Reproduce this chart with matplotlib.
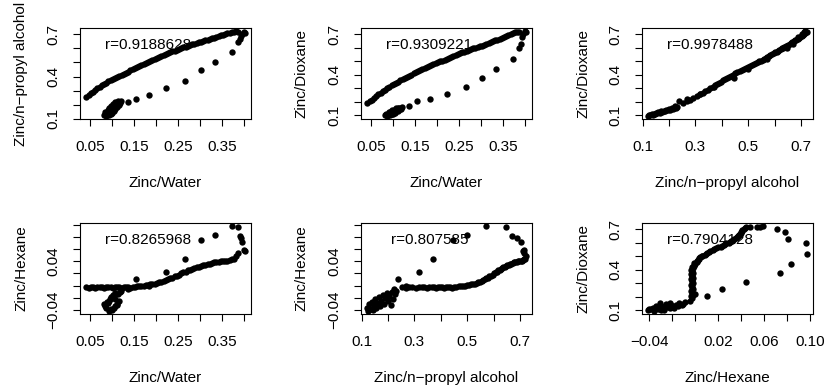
import matplotlib
matplotlib.use("Agg")
import matplotlib.pyplot as plt

plt.rcParams['font.family'] = ['Liberation Sans', 'DejaVu Sans']

# one row per observation, read off the six scatter panels
# main band, lower cluster, sparse lower branch, top-right group
zinc_water = [
    0.042, 0.047, 0.052, 0.057, 0.062, 0.067, 0.072, 0.077, 0.082, 0.087,
    0.092, 0.097, 0.102, 0.107, 0.112, 0.117, 0.122, 0.127, 0.132, 0.137,
    0.142, 0.147, 0.152, 0.157, 0.162, 0.167, 0.172, 0.177, 0.182, 0.187,
    0.192, 0.197, 0.202, 0.207, 0.212, 0.217, 0.222, 0.227, 0.232, 0.237,
    0.242, 0.247, 0.252, 0.257, 0.262, 0.267, 0.272, 0.277, 0.282, 0.287,
    0.292, 0.297, 0.302, 0.307, 0.312, 0.317, 0.322, 0.327, 0.332, 0.337,
    0.342, 0.347, 0.352, 0.357, 0.362, 0.367, 0.372, 0.377,
    0.086, 0.093, 0.081, 0.097, 0.089, 0.101, 0.084, 0.095, 0.104, 0.090,
    0.099, 0.108, 0.094, 0.103, 0.112, 0.098, 0.107, 0.115, 0.102, 0.111,
    0.118, 0.106, 0.114, 0.120,
    0.136, 0.155, 0.183, 0.222, 0.265, 0.303, 0.333, 0.373,
    0.386, 0.390, 0.392, 0.396, 0.399, 0.401, 0.381, 0.385,
]
zinc_propyl = [
    0.255, 0.268, 0.280, 0.292, 0.305, 0.316, 0.327, 0.338, 0.349, 0.357,
    0.366, 0.375, 0.383, 0.391, 0.398, 0.406, 0.413, 0.420, 0.428, 0.435,
    0.443, 0.451, 0.459, 0.467, 0.475, 0.483, 0.491, 0.498, 0.506, 0.513,
    0.520, 0.528, 0.535, 0.541, 0.548, 0.554, 0.560, 0.566, 0.572, 0.578,
    0.584, 0.590, 0.596, 0.601, 0.607, 0.612, 0.618, 0.623, 0.628, 0.633,
    0.637, 0.642, 0.647, 0.652, 0.657, 0.662, 0.667, 0.672, 0.677, 0.682,
    0.687, 0.692, 0.697, 0.702, 0.707, 0.711, 0.715, 0.719,
    0.122, 0.126, 0.130, 0.134, 0.138, 0.142, 0.146, 0.150, 0.155, 0.160,
    0.165, 0.170, 0.175, 0.180, 0.185, 0.190, 0.195, 0.200, 0.205, 0.210,
    0.215, 0.220, 0.225, 0.229,
    0.221, 0.237, 0.268, 0.316, 0.370, 0.446, 0.500, 0.572,
    0.647, 0.668, 0.690, 0.705, 0.716, 0.712, 0.721, 0.716,
]
zinc_dioxane = [
    0.190, 0.203, 0.216, 0.229, 0.242, 0.254, 0.266, 0.278, 0.289, 0.300,
    0.310, 0.321, 0.331, 0.340, 0.349, 0.358, 0.367, 0.375, 0.384, 0.393,
    0.401, 0.410, 0.418, 0.427, 0.435, 0.442, 0.450, 0.457, 0.465, 0.472,
    0.479, 0.486, 0.493, 0.499, 0.505, 0.511, 0.518, 0.526, 0.533, 0.541,
    0.548, 0.554, 0.560, 0.566, 0.572, 0.578, 0.584, 0.589, 0.595, 0.601,
    0.606, 0.612, 0.617, 0.624, 0.630, 0.636, 0.642, 0.649, 0.655, 0.661,
    0.668, 0.675, 0.681, 0.688, 0.695, 0.701, 0.708, 0.714,
    0.097, 0.103, 0.099, 0.108, 0.104, 0.112, 0.109, 0.117, 0.114, 0.122,
    0.119, 0.128, 0.125, 0.133, 0.130, 0.139, 0.136, 0.145, 0.141, 0.150,
    0.147, 0.155, 0.152, 0.160,
    0.165, 0.206, 0.218, 0.256, 0.312, 0.375, 0.443, 0.520,
    0.600, 0.632, 0.678, 0.700, 0.722, 0.719, 0.716, 0.718,
]
zinc_hexane = [
    -0.003, -0.004, -0.002, -0.003, -0.004, -0.002, -0.003, -0.003, -0.004, -0.002,
    -0.003, -0.003, -0.004, -0.002, -0.003, -0.003, -0.004, -0.002, -0.003, -0.003,
    -0.004, -0.002, -0.003, -0.001, -0.001, 0.000, -0.001, 0.001, 0.001, 0.002,
    0.003, 0.003, 0.004, 0.006, 0.006, 0.008, 0.009, 0.010, 0.012, 0.013,
    0.015, 0.016, 0.018, 0.020, 0.022, 0.023, 0.025, 0.026, 0.027, 0.029,
    0.030, 0.031, 0.032, 0.033, 0.034, 0.035, 0.036, 0.037, 0.038, 0.038,
    0.039, 0.040, 0.040, 0.041, 0.041, 0.042, 0.043, 0.044,
    -0.036, -0.041, -0.030, -0.039, -0.027, -0.040, -0.033, -0.022, -0.037, -0.028,
    -0.019, -0.034, -0.025, -0.015, -0.030, -0.021, -0.012, -0.026, -0.017, -0.031,
    -0.011, -0.022, -0.014, -0.009,
    -0.005, 0.010, 0.000, 0.023, 0.044, 0.074, 0.083, 0.097,
    0.096, 0.081, 0.078, 0.071, 0.059, 0.056, 0.048, 0.054,
]

# correlation labels as printed on the panels
r_labels = ["r=0.9188628", "r=0.9309221", "r=0.9978488",
            "r=0.8265968", "r=0.807585", "r=0.7904128"]

# axis ticks (R only prints labels that do not collide)
water_ticks = [0.05, 0.10, 0.15, 0.20, 0.25, 0.30, 0.35, 0.40]
water_labels = ["0.05", "", "0.15", "", "0.25", "", "0.35", ""]
frac_ticks = [0.1, 0.2, 0.3, 0.4, 0.5, 0.6, 0.7]
frac_xlabels = ["0.1", "", "0.3", "", "0.5", "", "0.7"]
frac_ylabels = ["0.1", "", "", "0.4", "", "", "0.7"]
hex_ticks = [-0.04, -0.02, 0.00, 0.02, 0.04, 0.06, 0.08, 0.10]
hex_xlabels = ["\u22120.04", "", "", "0.02", "", "0.06", "", "0.10"]
hex_ylabels = ["\u22120.04", "", "", "", "0.04", "", "", ""]

lab_water = "Zinc/Water"
lab_propyl = "Zinc/n\u2212propyl alcohol"
lab_diox = "Zinc/Dioxane"
lab_hex = "Zinc/Hexane"

panels = [
    (zinc_water, zinc_propyl, lab_water, lab_propyl, water_ticks, water_labels, frac_ticks, frac_ylabels),
    (zinc_water, zinc_dioxane, lab_water, lab_diox, water_ticks, water_labels, frac_ticks, frac_ylabels),
    (zinc_propyl, zinc_dioxane, lab_propyl, lab_diox, frac_ticks, frac_xlabels, frac_ticks, frac_ylabels),
    (zinc_water, zinc_hexane, lab_water, lab_hex, water_ticks, water_labels, hex_ticks, hex_ylabels),
    (zinc_propyl, zinc_hexane, lab_propyl, lab_hex, frac_ticks, frac_xlabels, hex_ticks, hex_ylabels),
    (zinc_hexane, zinc_dioxane, lab_hex, lab_diox, hex_ticks, hex_xlabels, frac_ticks, frac_ylabels),
]

W, H = 825, 387
fig = plt.figure(figsize=(W / 100, H / 100), dpi=100)

lefts = [80, 361, 642]
tops = [28, 223]
box_w, box_h = 171, 91
fs = 11


def pad_lim(v):
    lo, hi = min(v), max(v)
    p = 0.04 * (hi - lo)
    return lo - p, hi + p


for i, (xv, yv, xl, yl, xt, xtl, yt, ytl) in enumerate(panels):
    row, col = divmod(i, 3)
    ax = fig.add_axes([lefts[col] / W, 1 - (tops[row] + box_h) / H, box_w / W, box_h / H])
    ax.scatter(xv, yv, s=21, c="black", linewidths=0, zorder=3)
    ax.text(0.40, 0.81, r_labels[i], transform=ax.transAxes, ha="center", va="center",
            fontsize=fs, zorder=1)

    ax.set_xticks(xt)
    ax.set_xticklabels(xtl, fontsize=fs)
    ax.set_yticks(yt)
    ax.set_yticklabels(ytl, fontsize=fs, rotation=90, va="center")
    ax.set_xlim(*pad_lim(xv))
    ax.set_ylim(*pad_lim(yv))

    ax.tick_params(direction="out", length=5, width=0.8, color="black")
    ax.tick_params(axis="x", pad=10)
    ax.tick_params(axis="y", pad=9)
    for sp in ax.spines.values():
        sp.set_linewidth(0.8)

    ax.set_xlabel(xl, fontsize=fs)
    ax.set_ylabel(yl, fontsize=fs)
    ax.xaxis.set_label_coords(0.5, -57 / box_h)
    ax.yaxis.set_label_coords(-52 / box_w, 0.5)

fig.savefig("out.png", dpi=100)
